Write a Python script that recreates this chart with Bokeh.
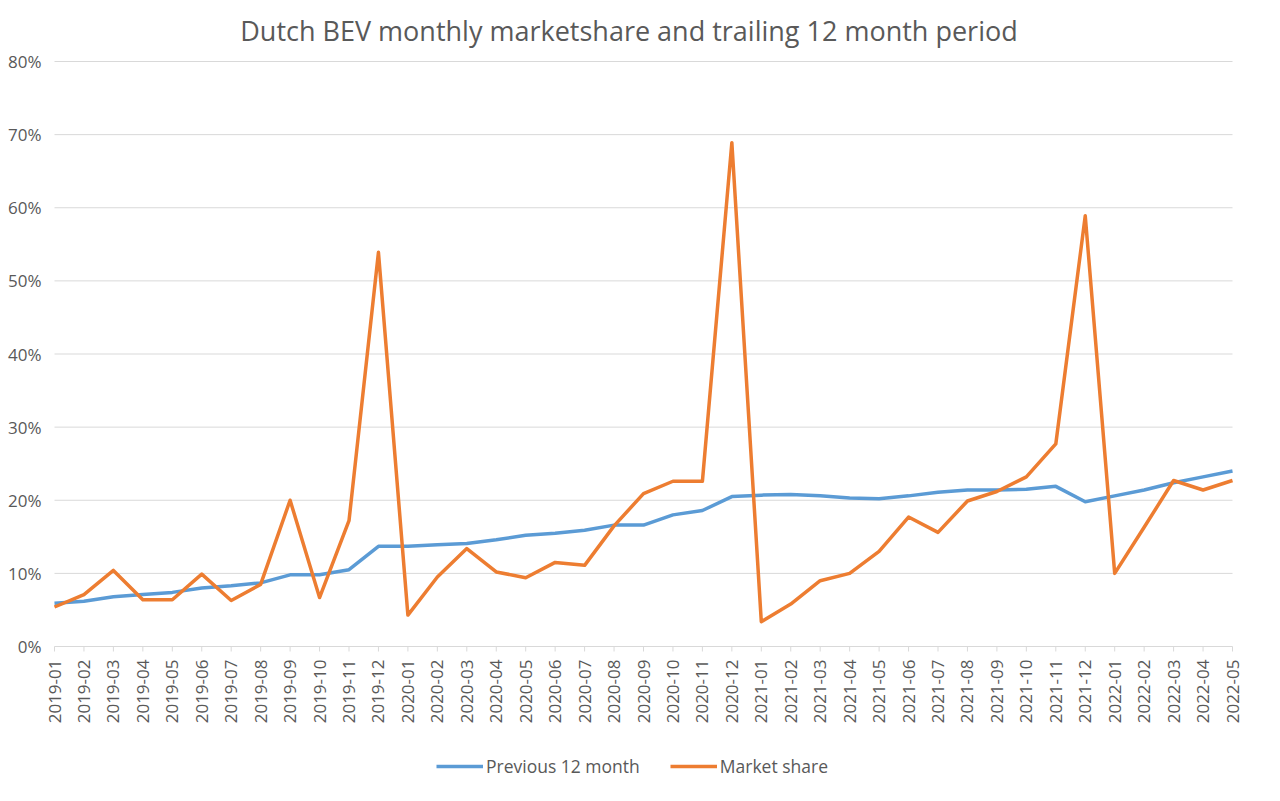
import math
from bokeh.plotting import figure
from bokeh.models import Range1d, Legend, LegendItem, ColumnDataSource
from bokeh.core.properties import value
from bokeh.embed import file_html
from bokeh.resources import INLINE

months = ["2019-01", "2019-02", "2019-03", "2019-04", "2019-05", "2019-06", "2019-07", "2019-08",
          "2019-09", "2019-10", "2019-11", "2019-12", "2020-01", "2020-02", "2020-03", "2020-04",
          "2020-05", "2020-06", "2020-07", "2020-08", "2020-09", "2020-10", "2020-11", "2020-12",
          "2021-01", "2021-02", "2021-03", "2021-04", "2021-05", "2021-06", "2021-07", "2021-08",
          "2021-09", "2021-10", "2021-11", "2021-12", "2022-01", "2022-02", "2022-03", "2022-04",
          "2022-05"]

previous_12_month = [5.9, 6.2, 6.8, 7.1, 7.4, 8.0, 8.3, 8.7, 9.8, 9.8, 10.5, 13.7, 13.7, 13.9,
                     14.1, 14.6, 15.2, 15.5, 15.9, 16.6, 16.6, 18.0, 18.6, 20.5, 20.7, 20.8,
                     20.6, 20.3, 20.2, 20.6, 21.1, 21.4, 21.4, 21.5, 21.9, 19.8, 20.6, 21.4,
                     22.4, 23.2, 24.0]

market_share = [5.4, 7.1, 10.4, 6.4, 6.4, 9.9, 6.3, 8.5, 20.0, 6.7, 17.2, 53.9, 4.3, 9.5,
                13.4, 10.2, 9.4, 11.5, 11.1, 16.5, 20.9, 22.6, 22.6, 68.9, 3.4, 5.8, 9.0,
                10.0, 13.0, 17.7, 15.6, 19.9, 21.2, 23.2, 27.7, 58.9, 10.0, 16.3, 22.7,
                21.4, 22.7]

y_ticks = [0, 0.1, 0.2, 0.3, 0.4, 0.5, 0.6, 0.7, 0.8]
y_tick_labels = ["0%", "10%", "20%", "30%", "40%", "50%", "60%", "70%", "80%"]

TEXT = "#595959"
GRID = "#d9d9d9"
FONT = "Open Sans"

# layout (pixels, relative to the figure)
W, H = 1264, 785
TOP = 49                               # title panel height
GRID_TOP = 61                          # where the 80% gridline sits
PLOT_LEFT, PLOT_RIGHT = 54, 1232       # where the first / last month sit
PLOT_PX = 585                          # height of the 0..80% area
n = len(months)
px_per_cat = (PLOT_RIGHT - PLOT_LEFT) / (n - 1)
x_min = -PLOT_LEFT / px_per_cat
x_max = (n - 1) + (W - PLOT_RIGHT) / px_per_cat
px_per_unit = PLOT_PX / y_ticks[-1]
y_max = y_ticks[-1] + (GRID_TOP - TOP) / px_per_unit
y_min = -(H - GRID_TOP - PLOT_PX) / px_per_unit

x = list(range(n))
src = ColumnDataSource(dict(
    x=x,
    prev=[v / 100 for v in previous_12_month],
    share=[v / 100 for v in market_share],
))
xlab = ColumnDataSource(dict(x=x, y=[0] * n, text=months))
ylab = ColumnDataSource(dict(x0=[x[0]] * len(y_ticks), x1=[x[-1]] * len(y_ticks),
                             y=y_ticks, text=y_tick_labels))

p = figure(width=W, height=H, output_backend="svg", toolbar_location=None,
           x_range=Range1d(x_min, x_max), y_range=Range1d(y_min, y_max),
           x_axis_location=None, y_axis_location=None,
           min_border_left=0, min_border_right=0, min_border_top=TOP, min_border_bottom=0)

p.title.text = "Dutch BEV monthly marketshare and  trailing 12 month period"
p.title.align = "center"
p.title.text_font = FONT
p.title.text_font_size = "27px"
p.title.text_font_style = "normal"
p.title.text_color = TEXT
p.title.offset = 11
p.title.standoff = 1

p.outline_line_color = None
p.background_fill_color = "white"
p.border_fill_color = "white"
p.xgrid.grid_line_color = None
p.ygrid.grid_line_color = None

# horizontal gridlines (value axis) and their labels
p.segment(x0="x0", x1="x1", y0="y", y1="y", source=ylab, line_color=GRID, line_width=1)
p.text(x="x0", y="y", text="text", source=ylab, x_offset=-13,
       text_align="right", text_baseline="middle", text_font=value(FONT),
       text_font_size="17px", text_color=TEXT)

# category ticks and labels along the 0% line
p.ray(x="x", y="y", source=xlab, length=5, length_units="screen", angle=-math.pi / 2,
      line_color=GRID, line_width=1)
p.text(x="x", y="y", text="text", source=xlab, angle=math.pi / 2, y_offset=13,
       text_align="right", text_baseline="middle", text_font=value(FONT),
       text_font_size="17px", text_color=TEXT)

r_prev = p.line("x", "prev", source=src, line_color="#5B9BD5", line_width=3.5, line_join="round")
r_share = p.line("x", "share", source=src, line_color="#ED7D31", line_width=3.5, line_join="round")

legend = Legend(items=[LegendItem(label="Previous 12 month", renderers=[r_prev]),
                       LegendItem(label="Market share", renderers=[r_share])],
                orientation="horizontal", location="bottom_center")
legend.border_line_color = None
legend.background_fill_alpha = 0
legend.label_text_font = FONT
legend.label_text_font_size = "17.5px"
legend.label_text_color = TEXT
legend.glyph_width = 47
legend.glyph_height = 18
legend.label_height = 18
legend.label_standoff = 3
legend.spacing = 30
legend.padding = 0
legend.margin = 7
p.add_layout(legend, "center")

open("out.html", "w").write(file_html(p, INLINE))
